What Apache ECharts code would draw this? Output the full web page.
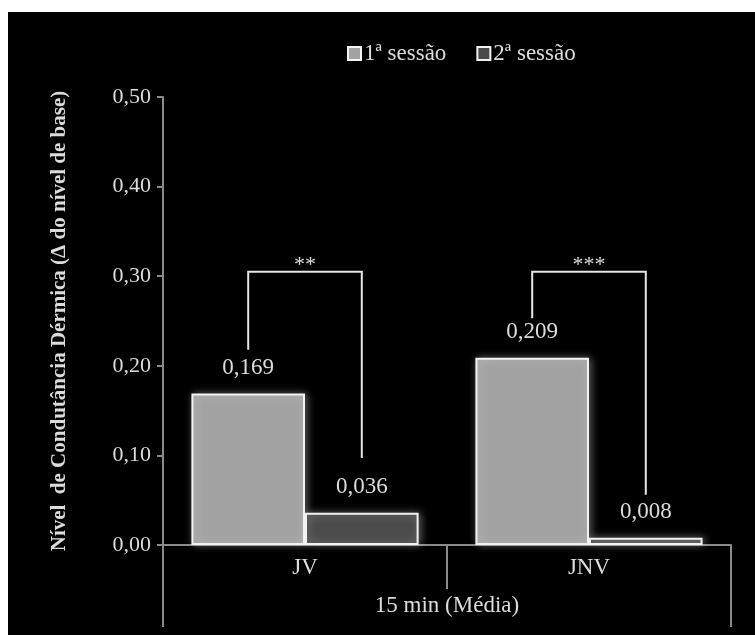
<!DOCTYPE html>
<html>
<head>
<meta charset="utf-8">
<script src="https://cdn.jsdelivr.net/npm/echarts@6/dist/echarts.min.js"></script>
<style>
  html, body { margin: 0; padding: 0; background: #fff; }
  #wrap { position: relative; width: 755px; height: 635px; overflow: hidden; background: #fff; }
  #bg { position: absolute; left: 8px; top: 12px; right: 0; bottom: 0; background: #000; }
  #chart { position: absolute; left: 0; top: 0; width: 755px; height: 635px; }
</style>
</head>
<body>
<div id="wrap"><div id="bg"></div><div id="chart"></div></div>
<script>
// ---- data ----
const categories = ['JV', 'JNV'];
const seriesNames = ['1ª sessão', '2ª sessão'];
const session1 = [0.169, 0.209];
const session2 = [0.036, 0.008];
const yMin = 0, yMax = 0.5, yStep = 0.1;
const groupLabel = ['15 min (Média)'];
const yTitle = 'Nível  de Condutância Dérmica (Δ do nível de base)';
// significance brackets: top of bracket, bottom of left leg, bottom of right leg
const bracketTop = [0.305, 0.305];
const bracketLeftEnd = [0.218, 0.253];
const bracketRightEnd = [0.097, 0.056];
const significance = ['**', '***'];

const SERIF = '"Liberation Serif", "Times New Roman", serif';
const TXT = '#dcdcdc';
const AXIS = '#8a8a8a';
const GAP = 0.2; // barCategoryGap fraction

const bracketData = categories.map((c, i) => [i, bracketTop[i], bracketLeftEnd[i], bracketRightEnd[i]]);

const chart = echarts.init(document.getElementById('chart'), null, { renderer: 'canvas' });
chart.setOption({
  backgroundColor: 'transparent',
  animation: false,
  legend: {
    data: seriesNames,
    left: 342,
    top: 37,
    itemWidth: 13,
    itemHeight: 13,
    itemGap: 30,
    icon: 'rect',
    textStyle: { color: TXT, fontFamily: SERIF, fontSize: 23, padding: [0, 0, 0, -2] }
  },
  grid: { left: 163, right: 24, top: 97, bottom: 90, containLabel: false },
  xAxis: [
    {
      type: 'category',
      data: categories,
      position: 'bottom',
      axisLine: { show: true, lineStyle: { color: AXIS, width: 2 } },
      axisTick: { show: true, length: 44, alignWithLabel: false, lineStyle: { color: AXIS, width: 2 } },
      axisLabel: { color: TXT, fontFamily: SERIF, fontSize: 23, margin: 11 }
    },
    {
      type: 'category',
      data: groupLabel,
      position: 'bottom',
      axisLine: { show: false },
      axisTick: { show: true, length: 82, lineStyle: { color: AXIS, width: 2 } },
      axisLabel: { color: TXT, fontFamily: SERIF, fontSize: 23, margin: 49 }
    }
  ],
  yAxis: {
    type: 'value',
    min: yMin,
    max: yMax,
    interval: yStep,
    name: yTitle,
    nameLocation: 'middle',
    nameGap: 93,
    nameRotate: 90,
    nameTextStyle: { color: TXT, fontFamily: SERIF, fontSize: 21, fontWeight: 'bold' },
    axisLine: { show: true, lineStyle: { color: AXIS, width: 2 } },
    axisTick: { show: true, length: 6, lineStyle: { color: AXIS, width: 2 } },
    splitLine: { show: false },
    axisLabel: {
      color: TXT, fontFamily: SERIF, fontSize: 22, margin: 12,
      formatter: v => v.toFixed(2).replace('.', ',')
    }
  },
  series: [
    {
      name: seriesNames[0],
      type: 'bar',
      data: session1,
      barGap: '0%',
      barCategoryGap: (GAP * 100) + '%',
      itemStyle: { color: '#a3a3a3', borderColor: '#f2f2f2', borderWidth: 2,
        shadowColor: 'rgba(255,255,255,0.35)', shadowBlur: 8, shadowOffsetX: 2 },
      label: { show: true, position: 'top', distance: 14, color: TXT, fontFamily: SERIF, fontSize: 23,
        formatter: p => p.value.toFixed(3).replace('.', ',') }
    },
    {
      name: seriesNames[1],
      type: 'bar',
      data: session2,
      barGap: '0%',
      barCategoryGap: (GAP * 100) + '%',
      itemStyle: { color: '#4b4b4b', borderColor: '#f2f2f2', borderWidth: 2,
        shadowColor: 'rgba(255,255,255,0.35)', shadowBlur: 8, shadowOffsetX: 2 },
      label: { show: true, position: 'top', distance: 14, color: TXT, fontFamily: SERIF, fontSize: 23,
        formatter: p => p.value.toFixed(3).replace('.', ',') }
    },
    {
      type: 'custom',
      name: 'brackets',
      xAxisIndex: 0,
      yAxisIndex: 0,
      data: bracketData,
      encode: { x: 0, y: 1 },
      z: 5,
      silent: true,
      renderItem: function (params, api) {
        const cat = api.value(0);
        const top = api.coord([cat, api.value(1)]);
        const catW = api.size([1, 0])[0];
        const off = catW * (1 - GAP) / 4;
        const lx = top[0] - off, rx = top[0] + off;
        const yl = api.coord([cat, api.value(2)])[1];
        const yr = api.coord([cat, api.value(3)])[1];
        return {
          type: 'group',
          children: [
            {
              type: 'polyline',
              shape: { points: [[lx, yl], [lx, top[1]], [rx, top[1]], [rx, yr]] },
              style: { stroke: '#e6e6e6', lineWidth: 2, fill: null }
            },
            {
              type: 'text',
              style: {
                text: significance[params.dataIndex],
                x: top[0], y: top[1] - 7,
                align: 'center', verticalAlign: 'middle',
                fill: TXT, font: '22px ' + SERIF
              }
            }
          ]
        };
      }
    }
  ]
});
</script>
</body>
</html>
